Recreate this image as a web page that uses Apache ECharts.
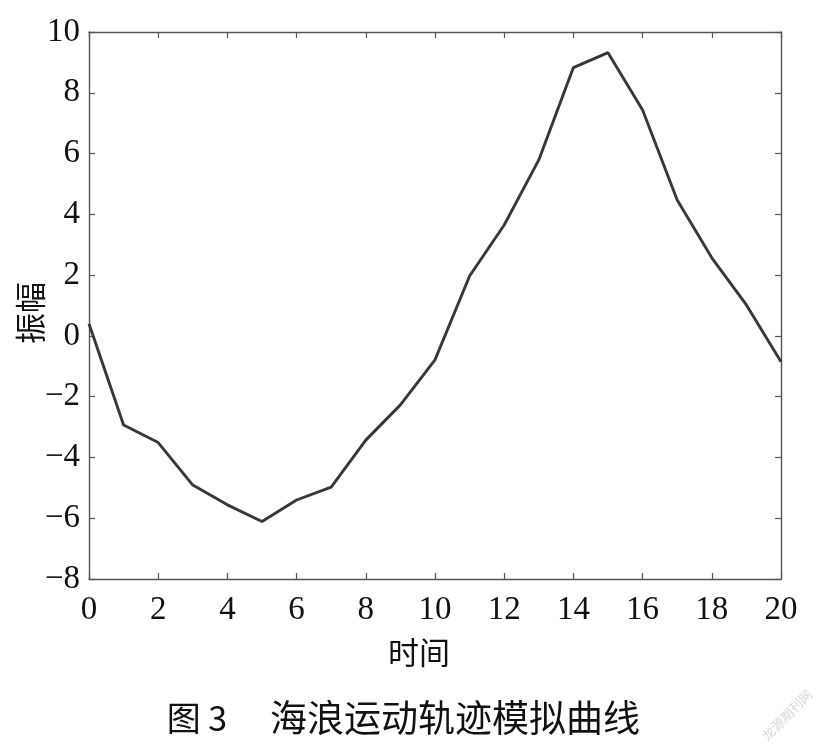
<!DOCTYPE html>
<html>
<head>
<meta charset="utf-8">
<script src="https://cdn.jsdelivr.net/npm/echarts@6/dist/echarts.min.js"></script>
<style>
html,body{margin:0;padding:0;background:#fff;}
#chart{width:827px;height:756px;}
</style>
</head>
<body>
<div id="chart"></div>
<script>
const times = [0,1,2,3,4,5,6,7,8,9,10,11,12,13,14,15,16,17,18,19,20];
const amplitude = [0.4,-2.93,-3.51,-4.91,-5.56,-6.11,-5.40,-4.98,-3.43,-2.27,-0.79,1.97,3.65,5.79,8.83,9.32,7.43,4.47,2.57,1.02,-0.85];
const xTicks = {min:0, max:20, step:2};
const yTicks = {min:-8, max:10, step:2};
const xName = '时间';
const yName = '振幅';
const caption1 = '图 3';
const caption2 = '海浪运动轨迹模拟曲线';
const watermark = '龙源期刊网';

const serif = 'Liberation Serif, Times New Roman, serif';
const cjk = 'Noto Sans CJK SC';
const axisColor = '#555';
const fmt = v => (v < 0 ? '\u2212' + Math.abs(v) : String(v));

const chart = echarts.init(document.getElementById('chart'), null, {renderer:'canvas'});
const tickStyle = {show:true, inside:true, length:6, lineStyle:{color:axisColor, width:1.2}};
const lineStyle = {show:true, onZero:false, lineStyle:{color:axisColor, width:1.4}};
chart.setOption({
  animation:false,
  backgroundColor:'#fff',
  grid:{left:89, right:46, top:32, bottom:177, containLabel:false},
  xAxis:[{
    type:'value', min:xTicks.min, max:xTicks.max, interval:xTicks.step, position:'bottom',
    axisLine:lineStyle, axisTick:tickStyle, splitLine:{show:false},
    axisLabel:{fontFamily:serif, fontSize:33, color:'#111', margin:15, formatter:fmt}
  },{
    type:'value', min:xTicks.min, max:xTicks.max, interval:xTicks.step, position:'top',
    axisLine:lineStyle, axisTick:tickStyle, splitLine:{show:false}, axisLabel:{show:false}
  }],
  yAxis:[{
    type:'value', min:yTicks.min, max:yTicks.max, interval:yTicks.step, position:'left',
    axisLine:lineStyle, axisTick:tickStyle, splitLine:{show:false},
    axisLabel:{fontFamily:serif, fontSize:33, color:'#111', margin:9, formatter:fmt}
  },{
    type:'value', min:yTicks.min, max:yTicks.max, interval:yTicks.step, position:'right',
    axisLine:lineStyle, axisTick:tickStyle, splitLine:{show:false}, axisLabel:{show:false}
  }],
  series:[{
    type:'line', xAxisIndex:0, yAxisIndex:0,
    data: times.map((t,i)=>[t, amplitude[i]]),
    showSymbol:false, symbol:'none',
    lineStyle:{color:'#383838', width:2.9},
    silent:true
  }],
  graphic:[
    {type:'text', x:419, y:652, style:{text:xName, font:'31px "'+cjk+'"', fill:'#111', align:'center', verticalAlign:'middle'}},
    {type:'text', x:30, y:313, rotation:Math.PI/2, style:{text:yName, font:'31px "'+cjk+'"', fill:'#111', align:'center', verticalAlign:'middle'}},
    {type:'text', x:197, y:718, style:{text:caption1, font:'34px "'+cjk+'"', fill:'#111', align:'center', verticalAlign:'middle'}},
    {type:'text', x:455, y:718, style:{text:caption2, font:'37px "'+cjk+'"', fill:'#111', align:'center', verticalAlign:'middle'}},
    {type:'text', x:787, y:715, rotation:Math.PI/4, style:{text:watermark, font:'13px "'+cjk+'"', fill:'#d8d8d8', align:'center', verticalAlign:'middle'}}
  ]
});
</script>
</body>
</html>
